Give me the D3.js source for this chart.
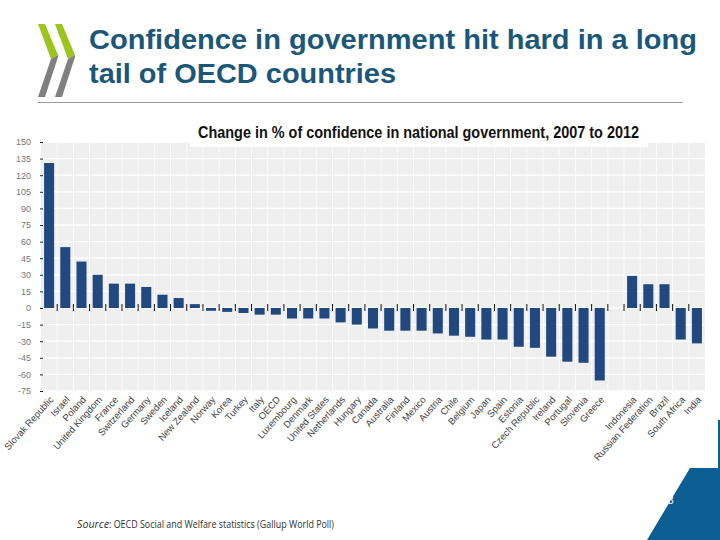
<!DOCTYPE html>
<html>
<head>
<meta charset="utf-8">
<script src="https://cdn.jsdelivr.net/npm/d3@7/dist/d3.min.js"></script>
<style>
  html, body { margin: 0; padding: 0; background: #ffffff; }
  svg { display: block; }
</style>
</head>
<body>
<svg id="chart" width="720" height="540"></svg>
<script>
// ---------------- DATA ----------------
const oecdCountries = ["Slovak Republic","Israel","Poland","United Kingdom","France","Switzerland","Germany","Sweden","Iceland","New Zealand","Norway","Korea","Turkey","Italy","OECD","Luxembourg","Denmark","United States","Netherlands","Hungary","Canada","Australia","Finland","Mexico","Austria","Chile","Belgium","Japan","Spain","Estonia","Czech Republic","Ireland","Portugal","Slovenia","Greece"];
const oecdValues = [131, 55, 42, 30, 22, 22, 19, 12, 9, 3.5, -2.5, -3.5, -4.5, -6, -6, -9.5, -9.5, -9.5, -13, -15, -18.5, -20.5, -20.5, -20.5, -23, -25, -26, -28.5, -28.5, -35, -36, -44, -48.5, -49.5, -65.5];
const partnerCountries = ["Indonesia","Russian Federation","Brazil","South Africa","India"];
const partnerValues = [29, 21.5, 21.5, -28.5, -32];
const yTickValues = [150, 135, 120, 105, 90, 75, 60, 45, 30, 15, 0, -15, -30, -45, -60, -75];
const yTickLabels = ["150","135","120","105","90","75","60","45","30","15","0","-15","-30","-45","-60","-75"];
const titleLines = ["Confidence in government hit hard in a long", "tail of OECD countries"];
const chartTitle = "Change in % of confidence in national government, 2007 to 2012";
const sourceLabel = "Source";
const sourceText = ": OECD Social and Welfare statistics (Gallup World Poll)";
const pageNumber = "3";

// ---------------- SETUP ----------------
const svg = d3.select("#chart");
const GAP = "__gap__";
const domain = [...oecdCountries, GAP, ...partnerCountries];
const rows = oecdCountries.map((c, i) => ({ c, v: oecdValues[i] }))
  .concat(partnerCountries.map((c, i) => ({ c, v: partnerValues[i] })));

const plot = { left: 41, right: 705, top: 142, bottom: 391 };
const x = d3.scaleBand().domain(domain).range([plot.left, plot.right])
  .paddingInner(0.38).paddingOuter(0.19);
const y = d3.scaleLinear().domain([-75, 150]).range([plot.bottom, plot.top]);
const step = x.step();

// ---------------- HEADER ----------------
const green = "#9dc41e", grey = "#808080";
[0, 17].forEach(dx => {
  svg.append("polygon")
    .attr("points", [[38,24],[45,24],[58,55],[51,59]].map(p => [p[0]+dx, p[1]].join(",")).join(" "))
    .attr("fill", green);
  svg.append("polygon")
    .attr("points", [[51,59],[58,55],[58,57],[45,97],[38,97]].map(p => [p[0]+dx, p[1]].join(",")).join(" "))
    .attr("fill", grey);
});

const titleWidths = [608, 307];
svg.append("g").selectAll("text").data(titleLines).join("text")
  .attr("x", 89).attr("y", (d, i) => 49 + i * 34)
  .attr("font-family", "'Liberation Sans', Arial, sans-serif")
  .attr("font-weight", "bold").attr("font-size", 27.5)
  .attr("textLength", (d, i) => titleWidths[i]).attr("lengthAdjust", "spacingAndGlyphs")
  .attr("fill", "#1b5778")
  .text(d => d);

svg.append("line").attr("x1", 38).attr("x2", 683).attr("y1", 102.5).attr("y2", 102.5)
  .attr("stroke", "#9a9a9a").attr("stroke-width", 1);

// ---------------- PLOT ----------------
svg.append("rect")
  .attr("x", plot.left).attr("y", plot.top)
  .attr("width", plot.right - plot.left).attr("height", plot.bottom - plot.top)
  .attr("fill", "#efefef");

const boundaries = domain.slice(1).map(d => x(d) - (step - x.bandwidth()) / 2);
svg.append("g").selectAll("line").data(boundaries).join("line")
  .attr("x1", d => d).attr("x2", d => d)
  .attr("y1", plot.top).attr("y2", plot.bottom)
  .attr("stroke", "#ffffff").attr("stroke-width", 1).attr("opacity", 0.8);

svg.append("g").selectAll("line").data(yTickValues).join("line")
  .attr("x1", plot.left).attr("x2", plot.right)
  .attr("y1", d => y(d)).attr("y2", d => y(d))
  .attr("stroke", "#ffffff").attr("stroke-width", 1.3);

svg.append("rect").attr("x", 190).attr("y", 118).attr("width", 458).attr("height", 29).attr("fill", "#ffffff");
svg.append("text")
  .attr("x", 198).attr("y", 138)
  .attr("font-family", "'Liberation Sans Narrow', 'Arial Narrow', 'Liberation Sans', Arial, sans-serif")
  .attr("font-weight", "bold").attr("font-size", 16)
  .attr("textLength", 441).attr("lengthAdjust", "spacingAndGlyphs")
  .attr("fill", "#111111")
  .text(chartTitle);

svg.append("g").selectAll("rect").data(rows).join("rect")
  .attr("x", d => x(d.c))
  .attr("width", x.bandwidth())
  .attr("y", d => y(Math.max(0, d.v)))
  .attr("height", d => Math.abs(y(d.v) - y(0)))
  .attr("fill", "#22497f");

svg.append("g").selectAll("line").data(boundaries).join("line")
  .attr("x1", d => d).attr("x2", d => d)
  .attr("y1", y(0) - 4).attr("y2", y(0) + 3)
  .attr("stroke", "#111").attr("stroke-width", 1);

const yAxis = d3.axisLeft(y).tickValues(yTickValues)
  .tickFormat((d, i) => yTickLabels[i]).tickSize(3).tickPadding(9);
const yg = svg.append("g").attr("transform", `translate(${plot.left + 2},0)`).call(yAxis);
yg.select(".domain").remove();
yg.selectAll(".tick line").attr("stroke", "#222");
yg.selectAll(".tick text")
  .attr("font-family", "'Liberation Sans', Arial, sans-serif")
  .attr("font-size", 9).attr("fill", "#777");

svg.append("g").selectAll("text").data(rows).join("text")
  .attr("transform", d => `translate(${x(d.c) + x.bandwidth() / 2 + 5},${plot.bottom + 9}) rotate(-48)`)
  .attr("text-anchor", "end")
  .attr("font-family", "'Liberation Sans', Arial, sans-serif")
  .attr("font-size", 9.5).attr("fill", "#444")
  .text(d => d.c);

// ---------------- FOOTER ----------------
const src = svg.append("text").attr("x", 77).attr("y", 528)
  .attr("font-family", "'Open Sans', 'Noto Sans', sans-serif")
  .attr("font-size", 10.5).attr("fill", "#333");
src.append("tspan").attr("font-style", "italic")
  .attr("textLength", 32).attr("lengthAdjust", "spacingAndGlyphs").text(sourceLabel);
src.append("tspan")
  .attr("textLength", 225).attr("lengthAdjust", "spacingAndGlyphs").text(sourceText);

svg.append("polygon").attr("points", "690,468 720,468 720,540 647,540").attr("fill", "#0b5e92");
svg.append("line").attr("x1", 719).attr("x2", 719).attr("y1", 420).attr("y2", 468)
  .attr("stroke", "#0b5e92").attr("stroke-width", 2);
svg.append("text").attr("x", 668).attr("y", 504)
  .attr("font-family", "'Liberation Sans', Arial, sans-serif").attr("font-size", 10)
  .attr("fill", "#ffffff").text(pageNumber);
</script>
</body>
</html>
